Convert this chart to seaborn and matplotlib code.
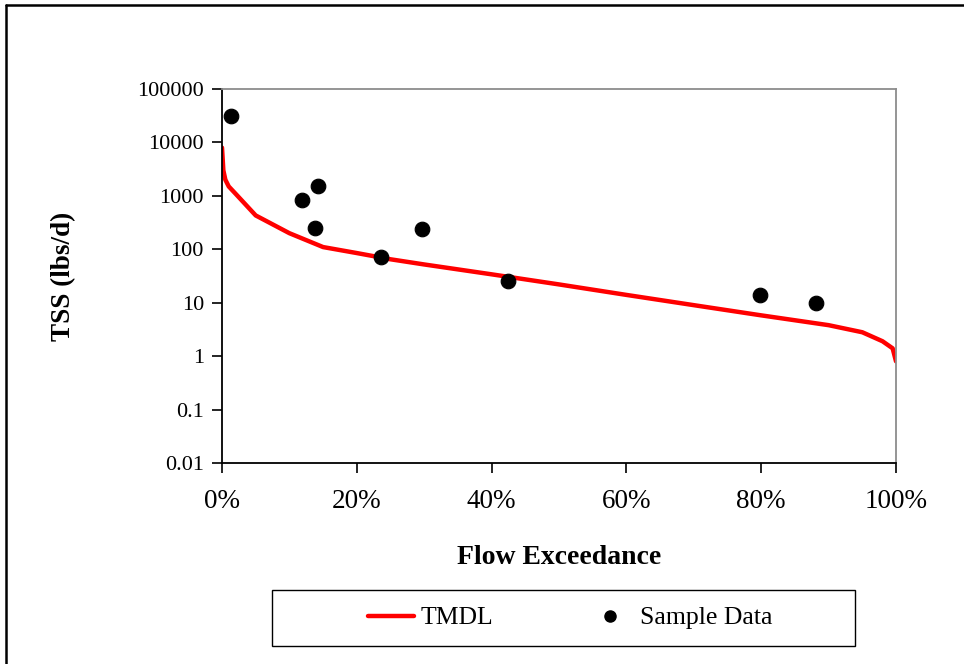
import numpy as np
import pandas as pd
import matplotlib
matplotlib.use("Agg")
import matplotlib.pyplot as plt
import seaborn as sns
from matplotlib.ticker import FixedLocator, FuncFormatter, NullLocator
from matplotlib.lines import Line2D
from matplotlib.patches import Rectangle

# TMDL curve (flow exceedance %, lbs/d)
tmdl_x = [0, 0.2, 0.5, 1, 2, 5, 10, 15, 20, 25, 30, 40, 50, 60, 70, 80, 90, 95, 98, 99.5, 100]
tmdl_y = [8000, 3000, 2000, 1500, 1100, 430, 200, 110, 85, 65, 52, 34, 22, 14, 9, 5.8, 3.8, 2.8, 1.9, 1.4, 0.8]

# Sample data
sample_x = [1.3, 11.9, 14.2, 13.8, 23.6, 29.7, 42.4, 79.8, 88.1]
sample_y = [31000, 830, 1550, 245, 71, 235, 26, 14, 9.8]

y_ticks = [0.01, 0.1, 1, 10, 100, 1000, 10000, 100000]
x_ticks = [0, 20, 40, 60, 80, 100]

sns.set_theme(style="white")
plt.rcParams['font.family'] = ['Liberation Serif', 'DejaVu Serif']
plt.rcParams['text.color'] = 'black'
plt.rcParams['axes.labelcolor'] = 'black'

fig = plt.figure(figsize=(9.64, 6.64), dpi=100)
ax = fig.add_axes([222/964, 1-463/664, (896-222)/964, (463-89)/664])

df_line = pd.DataFrame({"x": tmdl_x, "y": tmdl_y})
df_pts = pd.DataFrame({"x": sample_x, "y": sample_y})

sns.lineplot(data=df_line, x="x", y="y", color="#ff0000", linewidth=3.2, ax=ax, legend=False)
sns.scatterplot(data=df_pts, x="x", y="y", color="black", s=110, edgecolor="black", ax=ax, legend=False, zorder=5)

ax.set_yscale("log")
ax.set_ylim(0.01, 100000)
ax.set_xlim(0, 100)
ax.yaxis.set_major_locator(FixedLocator(y_ticks))
ax.yaxis.set_minor_locator(NullLocator())
ax.yaxis.set_major_formatter(FuncFormatter(lambda v, p: f"{v:g}" if v < 1 else f"{int(round(v))}"))
ax.xaxis.set_major_locator(FixedLocator(x_ticks))
ax.xaxis.set_major_formatter(FuncFormatter(lambda v, p: f"{int(v)}%"))

ax.tick_params(axis="both", which="major", direction="out", length=7, width=1.2,
               color="black", labelcolor="black", bottom=True, left=True)
ax.tick_params(axis="x", labelsize=19.5, pad=12)
ax.tick_params(axis="y", labelsize=16, pad=6)

for s in ["left", "bottom"]:
    ax.spines[s].set_color("black")
    ax.spines[s].set_linewidth(1.3)
for s in ["top", "right"]:
    ax.spines[s].set_color("#8c8c8c")
    ax.spines[s].set_linewidth(1.3)

ax.set_xlabel("Flow Exceedance", fontsize=20, fontweight="bold", labelpad=22)
ax.set_ylabel("TSS (lbs/d)", fontsize=19.5, fontweight="bold", labelpad=44)

handles = [Line2D([0], [0], color="#ff0000", linewidth=3.2),
           Line2D([0], [0], marker="o", color="black", linestyle="None", markersize=8)]
leg = fig.legend(handles, ["TMDL", "Sample Data"], loc="center",
                 bbox_to_anchor=(570/964, 1-618/664), ncol=2, fontsize=18.5,
                 frameon=False, columnspacing=3.65,
                 handlelength=1.8, handletextpad=0.25)

# legend box
fig.add_artist(Rectangle((272/964, 1-646/664), (855-272)/964, (646-590)/664,
                         transform=fig.transFigure, fill=False, edgecolor="black", linewidth=1.0))

# outer frame
fig.add_artist(Line2D([6/964, 6/964], [0, 1-5/664], color="black", linewidth=1.8, transform=fig.transFigure))
fig.add_artist(Line2D([6/964, 1], [1-5/664, 1-5/664], color="black", linewidth=1.8, transform=fig.transFigure))

fig.savefig("out.png", dpi=100)
